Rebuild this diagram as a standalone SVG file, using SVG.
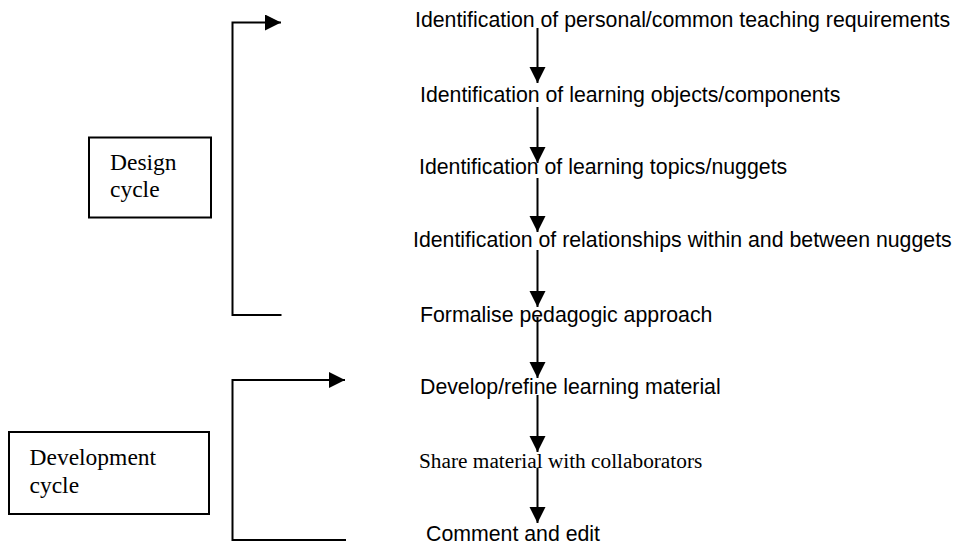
<svg xmlns="http://www.w3.org/2000/svg" width="953" height="547" viewBox="0 0 953 547">
<defs>
<marker id="ah" markerUnits="userSpaceOnUse" markerWidth="17" markerHeight="17" refX="16" refY="8" orient="auto">
<path d="M0,0 L16,8 L0,16 Z" fill="#000"/>
</marker>
<style>
.sans{font-family:"Liberation Sans",Arial,sans-serif;font-size:21.3px;fill:#000}
.serif{font-family:"Liberation Serif","Times New Roman",serif;font-size:21.3px;fill:#000}
.lbl{font-family:"Liberation Serif","Times New Roman",serif;font-size:23.5px;fill:#000}
.box{fill:#fff;stroke:#000;stroke-width:2}
.ln{fill:none;stroke:#000;stroke-width:2}
</style>
</defs>
<rect width="953" height="547" fill="#fff"/>
<g id="connectors">
<line class="ln" x1="537.5" y1="28" x2="537.5" y2="83" marker-end="url(#ah)"/>
<line class="ln" x1="537.5" y1="107" x2="537.5" y2="163" marker-end="url(#ah)"/>
<line class="ln" x1="537.5" y1="178" x2="537.5" y2="232" marker-end="url(#ah)"/>
<line class="ln" x1="537.5" y1="250" x2="537.5" y2="307" marker-end="url(#ah)"/>
<line class="ln" x1="537.5" y1="317" x2="537.5" y2="378" marker-end="url(#ah)"/>
<line class="ln" x1="537.5" y1="395" x2="537.5" y2="452" marker-end="url(#ah)"/>
<line class="ln" x1="537.5" y1="468" x2="537.5" y2="523" marker-end="url(#ah)"/>
<polyline class="ln" points="281.5,315 232.5,315 232.5,22.5 281,22.5" marker-end="url(#ah)"/>
<polyline class="ln" points="346,540 232.5,540 232.5,380 345,380" marker-end="url(#ah)"/>
</g>
<g id="step1"><text class="sans" x="415" y="27">Identification of personal/common teaching requirements</text></g>
<g id="step2"><text class="sans" x="420" y="102">Identification of learning objects/components</text></g>
<g id="step3"><text class="sans" x="419" y="174">Identification of learning topics/nuggets</text></g>
<g id="step4"><text class="sans" x="413" y="247">Identification of relationships within and between nuggets</text></g>
<g id="step5"><text class="sans" x="420" y="322">Formalise pedagogic approach</text></g>
<g id="step6"><text class="sans" x="420" y="394">Develop/refine learning material</text></g>
<g id="step7"><text class="serif" x="419" y="468">Share material with collaborators</text></g>
<g id="step8"><text class="sans" x="426" y="541">Comment and edit</text></g>
<g id="design-cycle">
<rect class="box" x="89" y="137.5" width="122" height="80"/>
<text class="lbl" x="110" y="170">Design</text>
<text class="lbl" x="110" y="197">cycle</text>
</g>
<g id="development-cycle">
<rect class="box" x="9" y="432" width="200" height="82"/>
<text class="lbl" x="29.5" y="465">Development</text>
<text class="lbl" x="29.5" y="493">cycle</text>
</g>
</svg>
